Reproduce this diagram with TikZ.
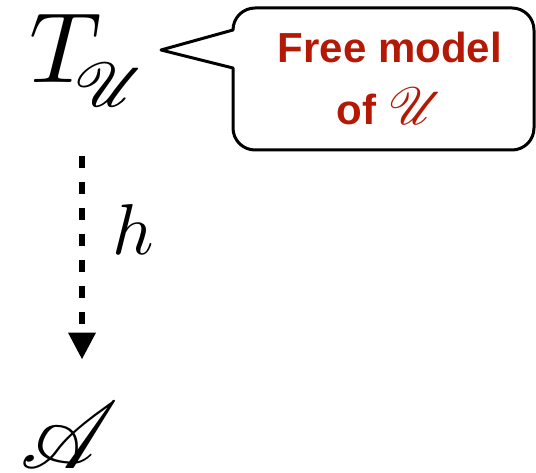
\documentclass[tikz,border=0pt]{standalone}
\usepackage{mathrsfs}
\usepackage{graphicx}
\usepackage{fontspec}
\setsansfont{Liberation Sans}
\usetikzlibrary{arrows.meta, positioning, calc}
\definecolor{notered}{RGB}{180,25,5}

\begin{document}
\begin{tikzpicture}[x=1pt, y=-1pt,
  obj/.style={inner sep=0pt},
  notetext/.style={inner sep=0pt, align=center, text=notered,
                   font=\fontsize{42}{62}\selectfont\sffamily\bfseries},
  bubble/.style={draw, line width=3pt, line join=round},
  maparr/.style={-{Triangle[length=27pt, width=26pt]}, line width=6.5pt, dash pattern=on 12pt off 14pt},
]
\useasboundingbox (0,0) rectangle (536,473);

\node[obj, anchor=base west, scale=10] (T) at (27,83)
  {$T\kern-2.8pt\raisebox{-2.4pt}{\scalebox{0.88}{$\scriptstyle\mathscr{U}$}}$};
\node[obj, anchor=base west, scale=9.5] (A) at (19,468) {$\mathscr{A}$};
\node[notetext, anchor=base] (note) at (390,125)
  {Free model\\of \scalebox{2.1}{$\mathscr{U}$}};

% speech bubble pointing at T
\coordinate (tip) at (161,50);
\draw[bubble] (tip) -- (233,30) [rounded corners=22pt]
  -- (233,8) -- (534,8) -- (534,150) -- (233,150)
  [sharp corners] -- (233,68) -- cycle;

\coordinate (ax) at (82,0);
\draw[maparr, shorten <=47pt, shorten >=40pt] (T.south -| ax) -- (A.north -| ax);
\node[obj, anchor=west, scale=7.2] (lbl) at (111,230) {$h$};
\end{tikzpicture}
\end{document}
